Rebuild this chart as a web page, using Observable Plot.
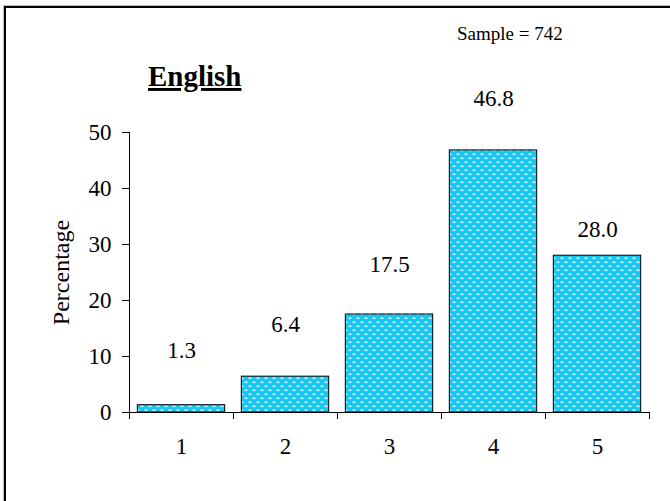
<!DOCTYPE html>
<html>
<head>
<meta charset="utf-8">
<script src="https://cdn.jsdelivr.net/npm/d3@7"></script>
<script src="https://cdn.jsdelivr.net/npm/@observablehq/plot@0.6"></script>
<style>
  html, body { margin: 0; padding: 0; background: #fff; }
  #wrap { position: relative; width: 670px; height: 501px; overflow: hidden; background: #fff; }
  #border { position: absolute; left: 4px; top: 6px; width: 800px; height: 700px;
            border-left: 2px solid #000; border-top: 2px solid #000;
            box-shadow: -1px -1px 0 #bbb; }
  #chart { position: absolute; left: 0; top: 0; }
</style>
</head>
<body>
<div id="wrap">
  <div id="border"></div>
  <div id="chart"></div>
</div>
<script>
const categories = [1, 2, 3, 4, 5];
const values = [1.3, 6.4, 17.5, 46.8, 28.0];
const yTicks = [0, 10, 20, 30, 40, 50];
const titleText = "English";
const sampleText = "Sample = 742";
const yLabel = "Percentage";

const FONT = "'Liberation Serif', 'Times New Roman', Times, serif";
const data = categories.map((c, i) => ({cat: c, value: values[i]}));
const boundaries = [...categories.map(c => c - 0.5), categories[categories.length - 1] + 0.5];
const half = 0.42;
// vertical lift of each value label above its bar (px), as placed in the original
const labelLift = [55, 52, 50, 52, 26];

const plot = Plot.plot({
  width: 670,
  height: 501,
  marginLeft: 129,
  marginRight: 21,
  marginTop: 132,
  marginBottom: 89,
  style: {fontFamily: FONT, fontSize: "23px", color: "#000", background: "transparent", overflow: "visible"},
  x: {type: "linear", domain: [0.5, 5.5]},
  y: {domain: [0, 50]},
  marks: [
    Plot.rectY(data, {x1: d => d.cat - half, x2: d => d.cat + half, y1: 0, y2: "value",
      fill: "url(#dots)", stroke: "#000", strokeWidth: 1}),
    ...data.map((d, i) => Plot.text([d], {x: "cat", y: "value", text: e => e.value.toFixed(1),
      lineAnchor: "middle", dy: -labelLift[i], fontSize: 23, fontFamily: FONT, fill: "#000"})),
    Plot.ruleY([0], {stroke: "#000", strokeWidth: 1}),
    Plot.ruleX([0.5], {stroke: "#000", strokeWidth: 1}),
    Plot.axisY({ticks: yTicks, tickSize: 7, tickPadding: 11, label: null, fontSize: 23, fontFamily: FONT}),
    Plot.axisY({ticks: [], label: yLabel, labelAnchor: "center", labelOffset: 78, labelArrow: "none", fontSize: 24, fontFamily: FONT}),
    Plot.axisX({ticks: boundaries, tickSize: 7, tickFormat: () => "", label: null}),
    Plot.axisX({ticks: categories, tickSize: 0, tickPadding: 25, tickFormat: d => String(d), label: null, fontSize: 23, fontFamily: FONT})
  ]
});

const svg = d3.select(plot);
const defs = svg.insert("defs", ":first-child");
const pat = defs.append("pattern").attr("id", "dots").attr("patternUnits", "userSpaceOnUse")
  .attr("width", 8).attr("height", 8);
pat.append("rect").attr("width", 8).attr("height", 8).attr("fill", "#14c8f2");
pat.append("rect").attr("x", 0.5).attr("y", 1.5).attr("width", 3).attr("height", 1.6).attr("fill", "#d8f6ff");
pat.append("rect").attr("x", 4.5).attr("y", 5.5).attr("width", 3).attr("height", 1.6).attr("fill", "#d8f6ff");

// titles
svg.append("text").attr("x", 148).attr("y", 86)
  .attr("text-anchor", "start")
  .attr("font-size", 29).attr("font-weight", "bold").attr("text-decoration", "underline")
  .attr("fill", "#000").text(titleText);
svg.append("text").attr("x", 457).attr("y", 40)
  .attr("text-anchor", "start")
  .attr("font-size", 19).attr("fill", "#000").text(sampleText);

svg.selectAll("text").style("font-family", FONT);

document.getElementById("chart").appendChild(plot);
</script>
</body>
</html>
